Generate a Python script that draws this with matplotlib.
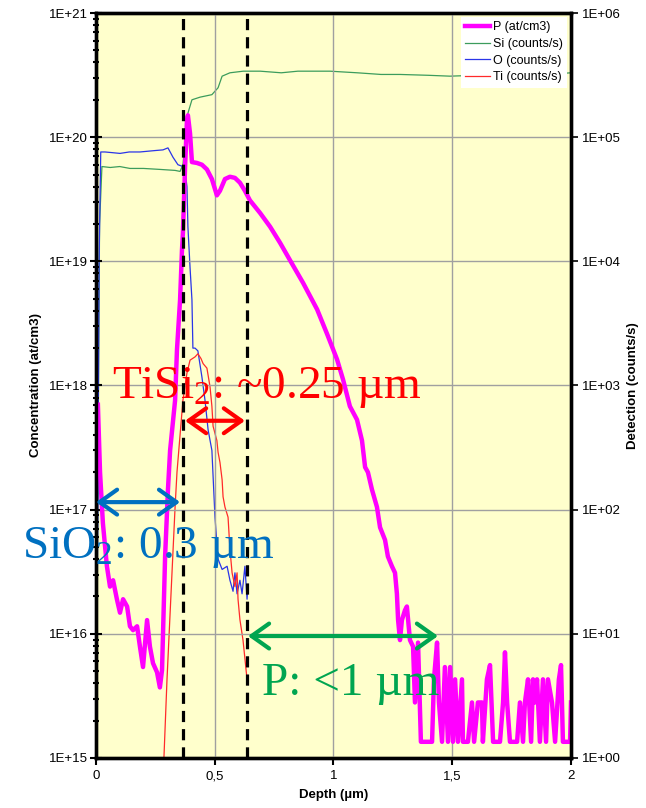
import matplotlib
matplotlib.use("Agg")

import matplotlib.pyplot as plt
from matplotlib.lines import Line2D
from matplotlib.ticker import FixedLocator, FuncFormatter, LogLocator, NullLocator
import numpy as np

plt.rcParams["font.family"] = ["Liberation Sans", "DejaVu Sans"]
plt.rcParams["mathtext.fontset"] = "custom"
plt.rcParams["mathtext.rm"] = "Liberation Serif"
plt.rcParams["mathtext.default"] = "rm"

# P concentration (at/cm3) vs depth (um)
p_depth = [
    0.008, 0.017, 0.029, 0.046, 0.059, 0.072, 0.088, 0.101, 0.114, 0.131,
    0.143, 0.156, 0.173, 0.185, 0.198, 0.215, 0.227, 0.240, 0.257, 0.269,
    0.278, 0.291, 0.303, 0.312, 0.333, 0.341, 0.354, 0.362, 0.366, 0.375,
    0.383, 0.387, 0.396, 0.404, 0.425, 0.446, 0.467, 0.488, 0.509, 0.522,
    0.543, 0.564, 0.585, 0.606, 0.627, 0.648, 0.691, 0.733, 0.775, 0.817,
    0.872, 0.931, 0.973, 1.015, 1.040, 1.069, 1.099, 1.120, 1.133, 1.145,
    1.162, 1.183, 1.196, 1.217, 1.229, 1.246, 1.259, 1.267, 1.272, 1.280,
    1.288, 1.301, 1.309, 1.322, 1.335, 1.343, 1.356, 1.368, 1.415, 1.423,
    1.436, 1.444, 1.457, 1.469, 1.482, 1.491, 1.503, 1.512, 1.524, 1.541,
    1.545, 1.566, 1.583, 1.592, 1.608, 1.625, 1.629, 1.646, 1.659, 1.672,
    1.701, 1.714, 1.722, 1.731, 1.743, 1.773, 1.785, 1.798, 1.806, 1.819,
    1.832, 1.840, 1.848, 1.857, 1.869, 1.882, 1.895, 1.903, 1.920, 1.933,
    1.949, 1.958, 1.966, 1.996, 2.000,
]
p_conc = [
    7.0e17, 2.0e17, 7.8e16, 3.5e16, 2.4e16, 2.7e16, 1.9e16, 1.48e16, 1.9e16, 1.66e16,
    1.15e16, 1.07e16, 1.15e16, 7.9e15, 5.4e15, 1.29e16, 7.9e15, 5.8e15, 4.9e15, 3.7e15,
    5.1e15, 4.2e16, 1.45e17, 3.0e17, 7.6e17, 1.95e18, 4.9e18, 1.23e19, 1.7e19, 5.7e19,
    1.38e20, 1.5e20, 1.07e20, 6.3e19, 6.2e19, 6.0e19, 5.5e19, 4.6e19, 3.4e19, 3.7e19,
    4.6e19, 4.8e19, 4.7e19, 4.3e19, 3.7e19, 3.1e19, 2.45e19, 1.9e19, 1.41e19, 1.02e19,
    6.7e18, 4.1e18, 2.6e18, 1.62e18, 1.12e18, 6.8e17, 5.3e17, 3.6e17, 2.2e17, 2.0e17,
    1.45e17, 1.05e17, 7.2e16, 5.7e16, 4.2e16, 3.5e16, 3.1e16, 2.1e16, 1.29e16, 8.9e15,
    1.29e16, 1.55e16, 1.66e16, 8.9e15, 7.9e15, 2.8e15, 8.5e15, 1.35e15, 1.35e15, 4.3e15,
    8.5e15, 2.8e15, 1.35e15, 5.4e15, 1.35e15, 5.4e15, 1.35e15, 4.3e15, 1.35e15, 4.3e15,
    1.35e15, 1.35e15, 2.8e15, 1.35e15, 2.8e15, 2.8e15, 1.35e15, 4.3e15, 5.6e15, 1.35e15,
    1.35e15, 2.8e15, 7.1e15, 2.8e15, 1.35e15, 1.35e15, 2.8e15, 1.35e15, 2.8e15, 4.3e15,
    1.35e15, 4.3e15, 2.8e15, 4.3e15, 1.35e15, 4.3e15, 1.35e15, 4.3e15, 2.8e15, 1.35e15,
    4.3e15, 5.6e15, 1.35e15, 1.35e15, 2.8e15,
]

# Si counts/s
si_depth = [
    0.0, 0.008, 0.015, 0.025, 0.06, 0.10, 0.143, 0.20, 0.269, 0.333,
    0.354, 0.366, 0.379, 0.387, 0.404, 0.438, 0.488, 0.514, 0.531, 0.564,
    0.62, 0.691, 0.78, 0.85, 0.985, 1.10, 1.20, 1.28, 1.40, 1.49,
    1.60, 1.70, 1.785, 1.90, 2.0,
]
si_counts = [
    1.5, 2.0e2, 2.0e4, 5.8e4, 5.7e4, 5.8e4, 5.6e4, 5.6e4, 5.5e4, 5.4e4,
    5.3e4, 6.0e4, 1.07e5, 1.56e5, 2.0e5, 2.1e5, 2.2e5, 2.5e5, 3.1e5, 3.3e5,
    3.4e5, 3.4e5, 3.3e5, 3.4e5, 3.4e5, 3.3e5, 3.2e5, 3.2e5, 3.15e5, 3.1e5,
    3.15e5, 3.1e5, 3.1e5, 3.2e5, 3.3e5,
]

# O counts/s
o_depth = [
    0.0, 0.008, 0.013, 0.020, 0.038, 0.07, 0.101, 0.14, 0.185, 0.248,
    0.282, 0.303, 0.324, 0.345, 0.366, 0.375, 0.383, 0.387, 0.396, 0.404,
    0.408, 0.417, 0.429, 0.446, 0.459, 0.472, 0.488, 0.497, 0.501, 0.514,
    0.531, 0.552, 0.564, 0.577, 0.585, 0.594, 0.606, 0.615, 0.627, 0.636,
    0.640,
]
o_counts = [
    1.5, 1.0e2, 1.0e4, 7.6e4, 7.6e4, 7.5e4, 7.4e4, 7.6e4, 7.6e4, 7.8e4,
    7.9e4, 8.2e4, 6.9e4, 6.0e4, 5.8e4, 5.4e4, 4.0e4, 1.9e4, 8.9e3, 4.9e3,
    2.0e3, 2.0e3, 1.9e3, 1.17e3, 7.6e2, 4.4e2, 3.0e2, 1.27e2, 87, 40,
    33, 35, 27, 22, 31, 21, 27, 21, 35, 19,
    25,
]

# Ti counts/s
ti_depth = [
    0.0, 0.286, 0.299, 0.320, 0.333, 0.341, 0.354, 0.366, 0.383, 0.396,
    0.417, 0.429, 0.442, 0.451, 0.467, 0.480, 0.488, 0.493, 0.509, 0.514,
    0.522, 0.531, 0.535, 0.543, 0.556, 0.564, 0.573, 0.585, 0.594, 0.598,
    0.606, 0.619, 0.636,
]
ti_counts = [
    1.0, 1.0, 4.3, 31, 105, 200, 400, 760, 1260, 1600,
    1700, 1800, 1650, 1500, 1380, 980, 680, 470, 360, 290,
    240, 174, 127, 105, 87, 48, 31, 24, 31, 19,
    13, 8.9, 4.3,
]

# layer boundaries (um)
boundaries = [0.366, 0.636]

yellow = "#FFFFCC"

fig = plt.figure(figsize=(6.46, 8.08), dpi=100)
ax1 = fig.add_axes([0.1486, 0.0619, 0.7353, 0.9220])
ax2 = ax1.twinx()

ax1.set_zorder(ax2.get_zorder() + 1)
ax1.patch.set_visible(False)
ax2.patch.set_visible(True)
ax2.set_facecolor(yellow)

ax2.plot(si_depth, si_counts, color="#3C9C5C", lw=0.9)
ax2.plot(o_depth, o_counts, color="#2A35E8", lw=0.9)
ax2.plot(ti_depth, ti_counts, color="#FF2A2A", lw=0.9)
ax1.plot(p_depth, p_conc, color="#FF00FF", lw=3.2, solid_joinstyle="round")

for b in boundaries:
    ax1.axvline(b, color="black", lw=2.3, dashes=(3.5, 2.2), zorder=5)

ax1.set_yscale("log")
ax2.set_yscale("log")
ax1.set_ylim(1e15, 1e21)
ax2.set_ylim(1e0, 1e6)
ax1.set_xlim(0, 2)

ax1.grid(True, color="#A0A0A0", lw=1.0)
ax1.set_axisbelow(True)

ax1.set_xticks([0, 0.5, 1, 1.5, 2])
ax1.set_xticklabels(["0", "0,5", "1", "1,5", "2"])
ax1.yaxis.set_major_locator(FixedLocator([10.0 ** k for k in range(15, 22)]))
ax1.yaxis.set_minor_locator(LogLocator(base=10, subs=np.arange(2, 10), numticks=20))
ax1.yaxis.set_major_formatter(FuncFormatter(lambda v, _: "1E+%d" % round(np.log10(v))))
ax2.yaxis.set_major_locator(FixedLocator([10.0 ** k for k in range(0, 7)]))
ax2.yaxis.set_minor_locator(NullLocator())
ax2.yaxis.set_major_formatter(FuncFormatter(lambda v, _: "1E+%02d" % round(np.log10(v))))

ax1.tick_params(axis="y", which="major", direction="inout", length=8, width=1.5, labelsize=9.5, pad=2)
ax1.tick_params(axis="y", which="minor", direction="inout", length=5, width=1.5)
ax1.tick_params(axis="x", direction="out", length=5, width=1.5, labelsize=9.5, pad=4)
ax2.tick_params(axis="y", direction="out", length=5, width=1.2, labelsize=9.5, pad=3)

for ax in (ax1, ax2):
    for s in ax.spines.values():
        s.set_linewidth(2.4)
        s.set_color("black")

ax1.set_ylabel("Concentration (at/cm3)", fontsize=9.5, fontweight="bold", labelpad=5)
ax2.set_ylabel("Detection (counts/s)", fontsize=9.5, fontweight="bold", labelpad=4)
ax1.set_xlabel("Depth (µm)", fontsize=9.5, fontweight="bold", labelpad=5)

handles = [
    Line2D([], [], color="#FF00FF", lw=3.2),
    Line2D([], [], color="#3C9C5C", lw=0.9),
    Line2D([], [], color="#2A35E8", lw=0.9),
    Line2D([], [], color="#FF2A2A", lw=0.9),
]
labels = ["P (at/cm3)", "Si (counts/s)", "O (counts/s)", "Ti (counts/s)"]
leg = ax1.legend(handles, labels, loc="upper right", fontsize=9, frameon=True,
                 fancybox=False, framealpha=1, edgecolor="none", facecolor="white",
                 handlelength=2.0, handletextpad=0.2, labelspacing=0.38,
                 borderpad=0.35, borderaxespad=0.3)
leg.set_zorder(10)

serif = ["Liberation Serif", "DejaVu Serif"]

# layer thickness annotations
arrow_kw = dict(arrowstyle="<->,head_length=0.45,head_width=0.32", lw=3,
                shrinkA=0, shrinkB=0, mutation_scale=28)

ax1.annotate("", xy=(0.627, 5.2e17), xytext=(0.375, 5.2e17),
             arrowprops=dict(color="#FF0000", **arrow_kw), zorder=6)
ax1.text(0.067, 7.9e17, "TiSi$_2$: ~0.25 µm", color="#FF0000", fontsize=34,
         family=serif, ha="left", va="baseline", zorder=6)

ax1.annotate("", xy=(0.354, 1.15e17), xytext=(0.0, 1.15e17),
             arrowprops=dict(color="#0070C0", **arrow_kw), zorder=6,
             annotation_clip=False)
ax1.text(-0.31, 4.1e16, "SiO$_2$: 0.3 µm", color="#0070C0", fontsize=34,
         family=serif, ha="left", va="baseline", zorder=6)

ax1.annotate("", xy=(1.44, 9.6e15), xytext=(0.64, 9.6e15),
             arrowprops=dict(color="#00A550", **arrow_kw), zorder=6)
ax1.text(0.699, 3.2e15, "P: <1 µm", color="#00A550", fontsize=34,
         family=serif, ha="left", va="baseline", zorder=6)

plt.savefig("out.png", dpi=100)
plt.close()
